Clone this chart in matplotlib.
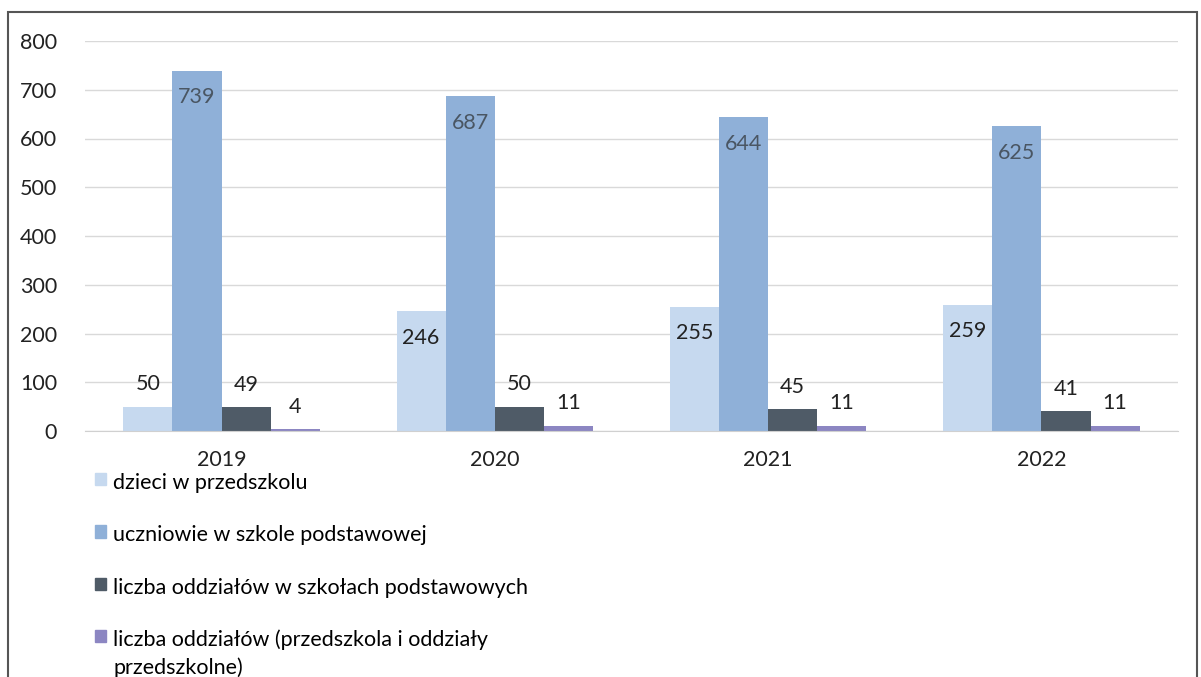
import numpy as np
import matplotlib.pyplot as plt
from matplotlib.patches import Patch, Rectangle

lata = ['2019', '2020', '2021', '2022']
przedszkole = [50, 246, 255, 259]
uczniowie = [739, 687, 644, 625]
oddzialy_sp = [49, 50, 45, 41]
oddzialy_przedsz = [4, 11, 11, 11]

serie = [
    ('dzieci w przedszkolu', przedszkole, '#c6d9ef'),
    ('uczniowie w szkole podstawowej', uczniowie, '#8fb0d8'),
    ('liczba oddziałów w szkołach podstawowych', oddzialy_sp, '#4f5b67'),
    ('liczba oddziałów (przedszkola i oddziały\nprzedszkolne)', oddzialy_przedsz, '#8c86c2'),
]

plt.rcParams['font.family'] = ['Lato', 'DejaVu Sans']
fs = 15.5

fig = plt.figure(figsize=(12.01, 6.77), dpi=100)
ax = fig.add_axes([85/1201, 1 - 431/677, (1178 - 85)/1201, (431 - 41)/677])

x = np.arange(len(lata))
szer = 0.18
for i, (nazwa, wart, kolor) in enumerate(serie):
    pos = x + (i - 1.5) * szer
    ax.bar(pos, wart, width=szer, color=kolor, label=nazwa, zorder=2)
    for p, v in zip(pos, wart):
        if v > 150:   # etykieta w srodku slupka
            kol = '#4a5663' if v > 500 else '#222222'
            ax.annotate(str(v), (p, v), xytext=(0, -12), textcoords='offset points',
                        ha='center', va='top', fontsize=fs, color=kol)
        else:
            ax.annotate(str(v), (p, v), xytext=(0, 9), textcoords='offset points',
                        ha='center', va='bottom', fontsize=fs, color='#222222')

ax.set_xlim(-0.5, 3.5)
ax.set_ylim(0, 800)
ax.set_yticks(range(0, 801, 100))
ax.set_xticks(x)
ax.set_xticklabels(lata)
ax.yaxis.grid(True, color='#d9d9d9', lw=1, zorder=0)
ax.tick_params(axis='both', length=0, labelsize=fs, colors='#222222')
ax.tick_params(axis='y', pad=20)
ax.tick_params(axis='x', pad=14)
for s in ['top', 'right', 'left']:
    ax.spines[s].set_visible(False)
ax.spines['bottom'].set_color('#d0d0d0')

uchwyty = [Patch(color=k, label=n) for n, _, k in serie]
leg = fig.legend(handles=uchwyty, loc='upper left', bbox_to_anchor=(95/1201, 1 - 473/677),
                 frameon=False, fontsize=fs, handlelength=0.5, handleheight=0.5,
                 handletextpad=0.35, labelspacing=1.5, borderpad=0, borderaxespad=0)
for t in leg.get_texts():
    t.set_linespacing(1.4)
# kwadracik przy pierwszej linii opisu
for kol in leg._legend_handle_box.get_children():
    for wiersz in kol.get_children():
        wiersz.align = 'top'

# ramka wokol wykresu
fig.patches.append(Rectangle((8/1201, -0.05), (1197 - 8)/1201, 1.05 - 12/677,
                             transform=fig.transFigure, fill=False,
                             edgecolor='#555555', lw=1.5))

fig.savefig('out.png', dpi=100)
